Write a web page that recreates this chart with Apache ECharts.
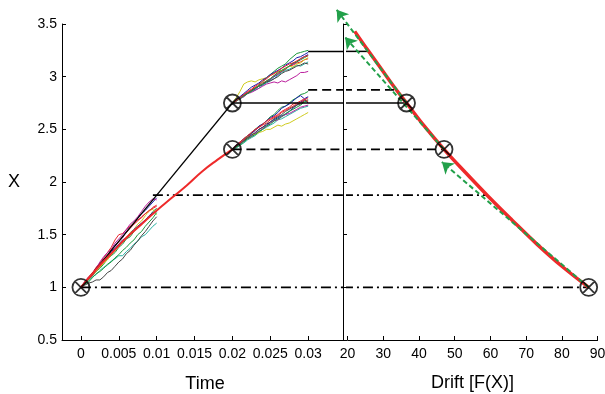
<!DOCTYPE html>
<html>
<head>
<meta charset="utf-8">
<script src="https://cdn.jsdelivr.net/npm/echarts@6/dist/echarts.min.js"></script>
<style>
html,body{margin:0;padding:0;background:#fff}
#chart{width:605px;height:394px}
</style>
</head>
<body>
<div id="chart"></div>
<script>
// ---- axis ticks ----
const timeTicks = [0, 0.005, 0.01, 0.015, 0.02, 0.025, 0.03];

// ---- sample-path time grids ----
const pathTimesFirst = [0, 0.0005, 0.001, 0.0015, 0.002, 0.0025, 0.003, 0.0035, 0.004, 0.0045, 0.005,
  0.0055, 0.006, 0.0065, 0.007, 0.0075, 0.008, 0.0085, 0.009, 0.0095, 0.01];
const pathTimesSecond = [0.02, 0.0205, 0.021, 0.0215, 0.022, 0.0225, 0.023, 0.0235, 0.024, 0.0245, 0.025,
  0.0255, 0.026, 0.0265, 0.027, 0.0275, 0.028, 0.0285, 0.029, 0.0295, 0.03];

const pathColors = ['#1c1caa', '#1c9a3c', '#e8222c', '#2ab3a3', '#bb1f9d', '#cfcb1f', '#454545', '#1c1caa', '#1c9a3c', '#e8222c'];

// sample paths starting at X = 1 (t = 0 .. 0.01)
const pathsFromOne = [
  [1.00,1.05,1.09,1.12,1.17,1.21,1.26,1.29,1.35,1.40,1.44,1.47,1.53,1.57,1.60,1.66,1.70,1.73,1.77,1.81,1.85],
  [1.00,1.04,1.07,1.11,1.15,1.18,1.22,1.27,1.30,1.33,1.38,1.41,1.46,1.48,1.53,1.57,1.60,1.64,1.67,1.72,1.75],
  [1.00,1.04,1.09,1.13,1.19,1.23,1.28,1.33,1.38,1.45,1.50,1.51,1.55,1.58,1.61,1.64,1.66,1.70,1.72,1.76,1.78],
  [1.00,1.03,1.06,1.10,1.12,1.16,1.19,1.21,1.25,1.27,1.30,1.30,1.34,1.37,1.41,1.44,1.48,1.50,1.54,1.58,1.61],
  [1.00,1.05,1.10,1.13,1.18,1.24,1.29,1.33,1.36,1.42,1.46,1.50,1.55,1.60,1.63,1.67,1.72,1.77,1.81,1.84,1.83],
  [1.00,1.04,1.07,1.12,1.15,1.19,1.23,1.26,1.31,1.35,1.39,1.43,1.47,1.52,1.55,1.60,1.63,1.68,1.73,1.74,1.69],
  [1.00,1.02,1.04,1.05,1.07,1.07,1.10,1.14,1.16,1.20,1.24,1.27,1.32,1.35,1.40,1.44,1.49,1.53,1.58,1.63,1.67],
  [1.00,1.05,1.08,1.13,1.18,1.21,1.25,1.29,1.34,1.37,1.41,1.45,1.47,1.51,1.55,1.58,1.61,1.64,1.68,1.71,1.72],
  [1.00,1.03,1.05,1.09,1.13,1.15,1.18,1.22,1.24,1.28,1.31,1.35,1.38,1.42,1.45,1.50,1.53,1.58,1.62,1.66,1.71],
  [1.00,1.05,1.08,1.11,1.16,1.20,1.25,1.30,1.36,1.39,1.43,1.48,1.52,1.56,1.60,1.63,1.67,1.70,1.73,1.75,1.77]
];

// sample paths starting at X = 2.31 (t = 0.02 .. 0.03)
const pathsFromLower = [
  [2.31,2.34,2.37,2.39,2.42,2.45,2.46,2.50,2.52,2.54,2.57,2.59,2.61,2.63,2.64,2.67,2.70,2.73,2.76,2.78,2.75],
  [2.31,2.33,2.36,2.40,2.43,2.47,2.50,2.53,2.55,2.58,2.62,2.64,2.68,2.71,2.72,2.75,2.78,2.80,2.83,2.84,2.86],
  [2.31,2.34,2.37,2.40,2.42,2.46,2.49,2.52,2.54,2.56,2.59,2.61,2.63,2.66,2.68,2.70,2.72,2.74,2.75,2.78,2.80],
  [2.31,2.32,2.35,2.37,2.40,2.42,2.44,2.47,2.50,2.52,2.54,2.56,2.59,2.60,2.62,2.64,2.66,2.68,2.70,2.71,2.72],
  [2.31,2.33,2.36,2.39,2.41,2.43,2.46,2.48,2.51,2.53,2.56,2.58,2.59,2.62,2.64,2.65,2.67,2.69,2.71,2.72,2.73],
  [2.31,2.34,2.38,2.41,2.44,2.46,2.45,2.47,2.48,2.50,2.50,2.52,2.54,2.53,2.55,2.56,2.58,2.60,2.62,2.64,2.66],
  [2.31,2.34,2.36,2.39,2.42,2.44,2.47,2.50,2.52,2.55,2.57,2.60,2.62,2.64,2.67,2.69,2.71,2.73,2.74,2.77,2.78],
  [2.31,2.35,2.38,2.41,2.44,2.46,2.49,2.53,2.55,2.58,2.61,2.63,2.66,2.70,2.72,2.74,2.77,2.80,2.82,2.79,2.81],
  [2.31,2.33,2.35,2.38,2.41,2.43,2.45,2.48,2.50,2.53,2.55,2.58,2.60,2.62,2.65,2.67,2.69,2.71,2.73,2.76,2.77],
  [2.31,2.35,2.38,2.41,2.44,2.47,2.50,2.52,2.55,2.58,2.60,2.62,2.64,2.67,2.69,2.71,2.74,2.75,2.77,2.79,2.76]
];

// sample paths starting at X = 2.75 (t = 0.02 .. 0.03)
const pathsFromUpper = [
  [2.75,2.77,2.80,2.82,2.85,2.86,2.88,2.91,2.92,2.95,2.97,3.00,3.02,3.05,3.07,3.10,3.12,3.14,3.17,3.19,3.21],
  [2.75,2.77,2.79,2.82,2.84,2.87,2.89,2.92,2.95,2.99,3.02,3.05,3.08,3.10,3.12,3.16,3.19,3.22,3.23,3.24,3.25],
  [2.75,2.78,2.80,2.83,2.85,2.87,2.90,2.91,2.94,2.96,2.98,3.01,3.03,3.05,3.07,3.10,3.11,3.13,3.14,3.16,3.17],
  [2.75,2.77,2.79,2.81,2.84,2.86,2.87,2.89,2.92,2.94,2.96,2.98,3.01,3.04,3.06,3.07,3.09,3.11,3.10,3.12,3.14],
  [2.75,2.77,2.79,2.81,2.84,2.85,2.87,2.89,2.91,2.93,2.94,2.95,2.94,2.96,2.95,2.97,2.99,3.01,3.04,3.04,3.05],
  [2.75,2.80,2.86,2.93,2.95,2.96,2.95,2.97,2.98,2.99,3.01,3.03,3.05,3.06,3.08,3.10,3.09,3.12,3.13,3.16,3.18],
  [2.75,2.77,2.80,2.82,2.84,2.87,2.89,2.91,2.93,2.95,2.96,2.98,3.00,3.03,3.05,3.06,3.08,3.10,3.11,3.13,3.12],
  [2.75,2.78,2.81,2.84,2.87,2.90,2.92,2.94,2.97,2.99,3.02,3.04,3.06,3.08,3.11,3.13,3.15,3.18,3.19,3.21,3.23],
  [2.75,2.77,2.79,2.82,2.84,2.86,2.89,2.91,2.93,2.96,2.98,3.01,3.04,3.06,3.08,3.10,3.13,3.14,3.16,3.18,3.20],
  [2.75,2.77,2.80,2.83,2.86,2.88,2.91,2.93,2.96,2.98,3.01,3.03,3.05,3.08,3.10,3.12,3.13,3.15,3.17,3.19,3.20]
];

// exact solution X(t)
const exactTime = [0, 0.002, 0.004, 0.006, 0.008, 0.01, 0.012, 0.014, 0.016, 0.018, 0.02];
const exactX = [1.00, 1.17, 1.32, 1.47, 1.60, 1.73, 1.85, 1.97, 2.10, 2.21, 2.31];

// explicit step from X = 1
const eulerTime = [0, 0.02];
const eulerX = [1.00, 2.75];

// drift curve F(X)
const driftF = [87.5, 80, 73, 66, 59.2, 53, 47, 41.5, 36.5, 33, 29.5, 25.8, 22];
const driftX = [1.00, 1.20, 1.41, 1.64, 1.87, 2.09, 2.31, 2.53, 2.75, 2.905, 3.07, 3.245, 3.43];

// evaluation points
const pointTimes = [0, 0.02, 0.02];
const pointX = [1.00, 2.31, 2.75];
const pointDrift = [87.5, 47, 36.5];

// tangent arrows on the drift curve: [F start, X start, F end, X end]
const tangentArrows = [
  [87.5, 1.00, 46.4, 2.19],
  [47, 2.31, 19.3, 3.374],
  [36.5, 2.75, 16.95, 3.635]
];

// horizontal guides: level X, start time, end drift, style
const guideLevels = [1.00, 1.875, 2.31, 2.75, 2.875, 3.24];
const guideStartTimes = [0, 0.0095, 0.02, 0.02, 0.03, 0.03];
const guideEndDrifts = [87.5, 59.2, 47, 36.5, 33.8, 26];
const guideKinds = ['dashdot', 'dashdot', 'dash', 'solid', 'dash', 'solid'];

const FONT = 'Liberation Sans, Arial, Helvetica, sans-serif';
const TIME_MAX = 0.0346;
const DRIFT_JOIN = 18.7;

const chart = echarts.init(document.getElementById('chart'), null, { renderer: 'canvas' });

function lineTypeOf(kind) {
  if (kind === 'dashdot') return { type: [10, 4, 2, 4], width: 1.6 };
  if (kind === 'dash') return { type: [9, 5], width: 1.9 };
  return { type: 'solid', width: 1.5 };
}

const series = [];

function addPaths(times, paths) {
  paths.forEach((p, i) => {
    series.push({
      type: 'line', xAxisIndex: 0, yAxisIndex: 0, z: 2,
      showSymbol: false, silent: true,
      lineStyle: { color: pathColors[i % pathColors.length], width: 1 },
      data: times.map((t, k) => [t, p[k]])
    });
  });
}
addPaths(pathTimesFirst, pathsFromOne);
addPaths(pathTimesSecond, pathsFromLower);
addPaths(pathTimesSecond, pathsFromUpper);

// guides, split across the two panels
guideLevels.forEach((lv, i) => {
  const st = lineTypeOf(guideKinds[i]);
  series.push({
    type: 'line', xAxisIndex: 0, yAxisIndex: 0, z: 3, showSymbol: false, clip: false, silent: true,
    lineStyle: { color: '#000', width: st.width, type: st.type },
    data: [[guideStartTimes[i], lv], [TIME_MAX, lv]]
  });
  series.push({
    type: 'line', xAxisIndex: 1, yAxisIndex: 1, z: 3, showSymbol: false, clip: false, silent: true,
    lineStyle: { color: '#000', width: st.width, type: st.type },
    data: [[DRIFT_JOIN, lv], [guideEndDrifts[i], lv]]
  });
});

// explicit step line
series.push({
  type: 'line', xAxisIndex: 0, yAxisIndex: 0, z: 4, showSymbol: false, silent: true,
  lineStyle: { color: '#000', width: 1.2 },
  data: eulerTime.map((t, k) => [t, eulerX[k]])
});

// exact solution
series.push({
  type: 'line', xAxisIndex: 0, yAxisIndex: 0, z: 4, showSymbol: false, smooth: true, silent: true,
  lineStyle: { color: '#ee2a2a', width: 2 },
  data: exactTime.map((t, k) => [t, exactX[k]])
});

// drift curve
series.push({
  type: 'line', xAxisIndex: 1, yAxisIndex: 1, z: 4, showSymbol: false, smooth: 0.4, silent: true,
  lineStyle: { color: '#ee2a2a', width: 3.5 },
  data: driftF.map((f, k) => [f, driftX[k]])
});

// tangent arrows
series.push({
  type: 'lines', coordinateSystem: 'cartesian2d', xAxisIndex: 1, yAxisIndex: 1, z: 5,
  clip: false, silent: true,
  symbol: ['none', 'arrow'], symbolSize: 11,
  lineStyle: { color: '#22a04a', width: 2, type: [5, 3], opacity: 1 },
  itemStyle: { color: '#22a04a' },
  data: tangentArrows.map(a => ({ coords: [[a[0], a[1]], [a[2], a[3]]] }))
});

// circled-cross markers
const markerPath = 'path://M10,0 A10,10,0,1,1,-10,0 A10,10,0,1,1,10,0 Z M-7.07,-7.07 L7.07,7.07 M7.07,-7.07 L-7.07,7.07';
const markerStyle = { color: 'rgba(0,0,0,0)', borderColor: '#000', borderWidth: 1.8 };
series.push({
  type: 'scatter', xAxisIndex: 0, yAxisIndex: 0, z: 6, silent: true, clip: false,
  symbol: markerPath, symbolSize: 17, itemStyle: markerStyle,
  data: pointTimes.map((t, k) => [t, pointX[k]])
});
series.push({
  type: 'scatter', xAxisIndex: 1, yAxisIndex: 1, z: 6, silent: true, clip: false,
  symbol: markerPath, symbolSize: 17, itemStyle: markerStyle,
  data: pointDrift.map((f, k) => [f, pointX[k]])
});

const axisLine = { show: true, onZero: false, lineStyle: { color: '#000', width: 1 } };
const axisTick = { show: true, inside: true, length: 4, lineStyle: { color: '#000', width: 1 } };
const labelStyle = { color: '#000', fontFamily: FONT, fontSize: 14 };
const nameStyle = { color: '#000', fontFamily: FONT, fontSize: 18 };

chart.setOption({
  animation: false,
  backgroundColor: '#fff',
  grid: [
    { left: 62, top: 24, width: 281, height: 316, outerBoundsMode: 'none', containLabel: false },
    { left: 347.6, top: 24, width: 250, height: 316, outerBoundsMode: 'none', containLabel: false }
  ],
  xAxis: [
    {
      gridIndex: 0, type: 'value', min: -0.0025, max: TIME_MAX,
      axisLine, splitLine: { show: false },
      axisTick: Object.assign({}, axisTick, { customValues: timeTicks }),
      axisLabel: Object.assign({}, labelStyle, { customValues: timeTicks, margin: 7 }),
      name: 'Time', nameLocation: 'middle', nameGap: 35,
      nameTextStyle: Object.assign({}, nameStyle, { padding: [0, 0, 0, 5] })
    },
    {
      gridIndex: 1, type: 'value', min: 20, max: 90, interval: 10,
      axisLine, axisTick, splitLine: { show: false },
      axisLabel: Object.assign({}, labelStyle, { margin: 7 }),
      name: 'Drift [F(X)]', nameLocation: 'middle', nameGap: 34,
      nameTextStyle: nameStyle
    }
  ],
  yAxis: [
    {
      gridIndex: 0, type: 'value', min: 0.5, max: 3.5, interval: 0.5,
      axisLine, axisTick, splitLine: { show: false },
      axisLabel: Object.assign({}, labelStyle, { margin: 5 })
    },
    {
      gridIndex: 1, type: 'value', min: 0.5, max: 3.5, interval: 0.5, offset: 4.6,
      axisLine, axisTick, splitLine: { show: false },
      axisLabel: { show: false }
    }
  ],
  graphic: [
    {
      type: 'text', left: 8, top: 173, silent: true,
      style: { text: 'X', fill: '#000', font: '18px ' + FONT }
    }
  ],
  series
});
</script>
</body>
</html>
